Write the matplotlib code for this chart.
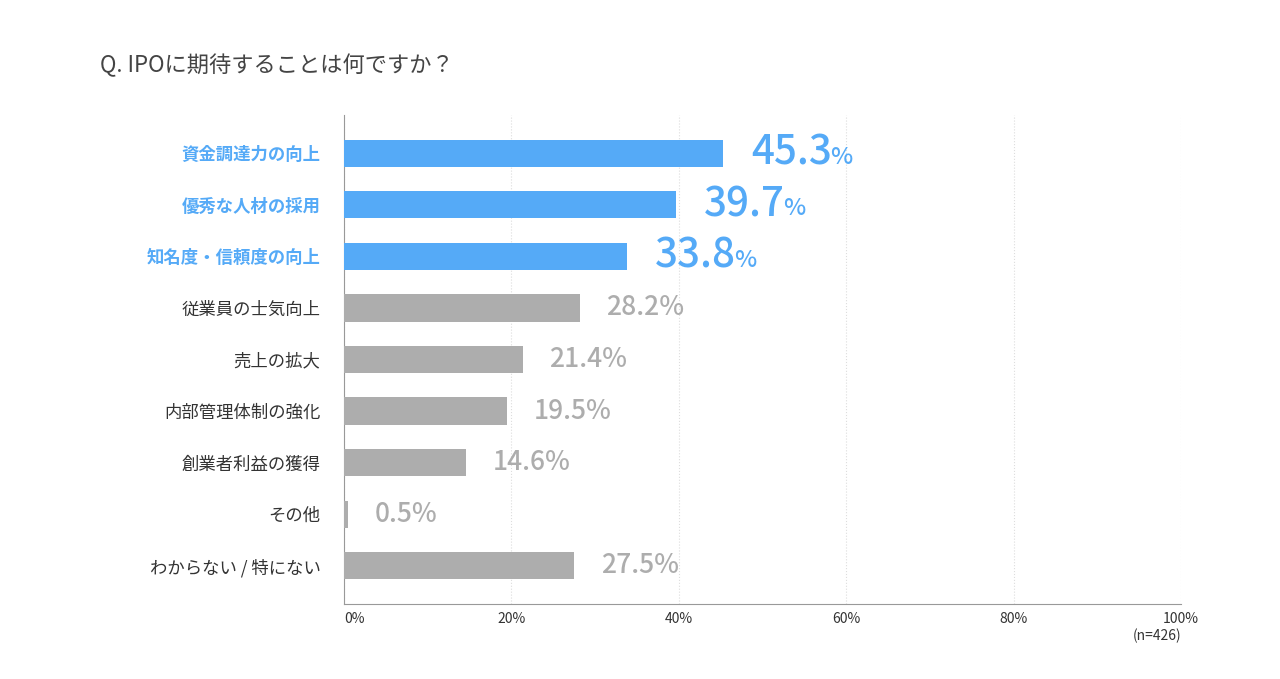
import matplotlib
matplotlib.use("Agg")
import matplotlib.pyplot as plt

plt.rcParams['font.family'] = ['Noto Sans CJK JP', 'DejaVu Sans']

categories = ["資金調達力の向上", "優秀な人材の採用", "知名度・信頼度の向上", "従業員の士気向上",
              "売上の拡大", "内部管理体制の強化", "創業者利益の獲得", "その他", "わからない / 特にない"]
values = [45.3, 39.7, 33.8, 28.2, 21.4, 19.5, 14.6, 0.5, 27.5]
highlight = [True, True, True, False, False, False, False, False, False]
xticks = [0, 20, 40, 60, 80, 100]

BLUE = "#55aaf7"
GRAY = "#adadad"
DARK = "#333333"

fig = plt.figure(figsize=(12.8, 6.79), dpi=100)
ax = fig.add_axes([344/1280, 75/679, 837/1280, 489/679])
ys = list(range(len(categories)))
colors = [BLUE if h else GRAY for h in highlight]
ax.barh(ys, values, height=0.53, color=colors, zorder=3)
ax.set_ylim(len(categories) - 0.26, -0.74)
ax.set_xlim(0, 100)
ax.set_xticks(xticks)
ax.set_xticklabels([f"{t}%" for t in xticks], fontsize=10, color=DARK)
for lbl in ax.get_xticklabels()[:1]:
    lbl.set_ha('left')
ax.tick_params(axis='x', length=0, pad=6)
ax.set_yticks(ys)
ax.set_yticklabels(categories, fontsize=12.5)
for lbl, h in zip(ax.get_yticklabels(), highlight):
    lbl.set_color(BLUE if h else DARK)
    if h:
        lbl.set_fontweight('bold')
ax.tick_params(axis='y', length=0, pad=17)
for s in ['top', 'right']:
    ax.spines[s].set_visible(False)
for s in ['left', 'bottom']:
    ax.spines[s].set_color('#999999')
ax.grid(axis='x', linestyle=':', color='#dddddd', zorder=0)

for y, v, h in zip(ys, values, highlight):
    if h:
        t = ax.annotate(f"{v:.1f}", xy=(v, y), xytext=(20, 0), textcoords='offset points',
                        fontsize=29, color=BLUE, va='center', ha='left', fontweight='medium')
        ax.annotate("%", xy=(1, 0.12), xycoords=t, xytext=(-1, 0), textcoords='offset points',
                    fontsize=17, color=BLUE, va='bottom', ha='left', fontweight='medium')
    else:
        ax.annotate(f"{v:.1f}%", xy=(v, y), xytext=(19, 0), textcoords='offset points',
                    fontsize=19, color=GRAY, va='center', ha='left', fontweight='medium')

fig.text(1181/1280, 1 - 636/679, "(n=426)", fontsize=10, color=DARK, ha='right', va='center')
fig.text(100/1280, 1 - 65/679, "Q. IPOに期待することは何ですか？", fontsize=16, color="#444444",
         ha='left', va='center')

fig.savefig("out.png", dpi=100)
